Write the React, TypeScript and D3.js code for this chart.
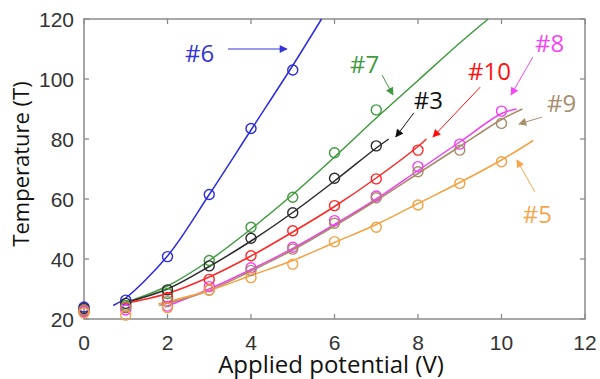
import React from "react";
import * as d3 from "d3";

const W = 600, H = 379;
const M = { left: 84, right: 15, top: 19, bottom: 60 };

const xTicks = [0, 2, 4, 6, 8, 10, 12];
const yTicks = [20, 40, 60, 80, 100, 120];

const seriesNames = ["#6", "#7", "#3", "#10", "#8", "#9", "#5"];
const seriesColors = ["#2b2be0", "#3f9a3f", "#2a2a2a", "#ff2626", "#f23ef2", "#a88b68", "#f5a141"];
const labelColors = ["#3434d8", "#3f9a3f", "#111111", "#ff1010", "#f545f5", "#a88d6d", "#f5a64c"];

// measured points (x = 0,1,2,...)
const pts6 = [24, 26.3, 40.8, 61.5, 83.5, 103];
const pts7 = [22.5, 24.5, 28.5, 39.5, 50.6, 60.6, 75.4, 89.7];
const pts3 = [23.5, 25.2, 29.7, 37.7, 46.9, 55.4, 66.9, 77.7];
const pts10 = [23, 23.8, 27.2, 33.2, 41.1, 49.4, 57.8, 66.7, 76.3];
const pts8 = [22.5, 23, 24.3, 30.8, 37.1, 43.9, 52.8, 61, 70.8, 78.3, 89.3];
const pts9 = [23, 24, 25.8, 29.6, 36.2, 43.3, 51.9, 60.4, 69.1, 76.3, 85.2];
const pts5 = [22, 21.3, 23.8, 29.7, 33.8, 38.3, 45.8, 50.6, 58, 65.2, 72.4];

// fitted curves [x, y]
const fit6: [number, number][] = [[0.7, 24.5], [1, 27], [2, 41], [3, 61.5], [4, 83], [5, 104.5], [5.69, 120]];
const fit7: [number, number][] = [[1, 25.5], [2, 31], [3, 39.5], [4, 50], [5, 61.5], [6, 74], [7, 87], [8, 99.5], [9, 112], [9.68, 120]];
const fit3: [number, number][] = [[1, 25.5], [2, 30], [3, 37.5], [4, 46], [5, 55.5], [6, 66], [7, 77], [7.3, 80]];
const fit10: [number, number][] = [[0.9, 25], [2, 28.5], [3, 34], [4, 41], [5, 49], [6, 57.5], [7, 67], [8, 77.5], [8.2, 80]];
const fit8: [number, number][] = [[1.94, 24], [3, 30], [4, 36.5], [5, 43.5], [6, 51.5], [7, 60], [8, 69.5], [9, 79], [10, 88.5], [10.36, 90]];
const fit9: [number, number][] = [[1.8, 24.5], [3, 29.5], [4, 36], [5, 43], [6, 51], [7, 59.5], [8, 68.5], [9, 77.5], [10, 86.5], [10.5, 90]];
const fit5: [number, number][] = [[1.78, 25], [3, 29.5], [4, 34.5], [5, 39.5], [6, 45.5], [7, 51.5], [8, 58.5], [9, 65.5], [10, 73], [10.76, 79.5]];

const allPts = [pts6, pts7, pts3, pts10, pts8, pts9, pts5];
const allFits = [fit6, fit7, fit3, fit10, fit8, fit9, fit5];

// annotation anchors in data units: text (x,y baseline), arrow from -> to
const labelPos: [number, number][] = [[2.42, 105.7], [6.37, 102], [7.9, 90], [9.2, 99.7], [10.8, 109], [11.09, 89], [10.51, 52]];
const arrowFrom: [number, number][] = [[3.45, 110], [7.14, 101.3], [7.9, 88.7], [9.49, 97.3], [10.75, 107.3], [10.97, 87.3], [10.8, 62.3]];
const arrowTo: [number, number][] = [[4.86, 110], [7.4, 94.7], [7.47, 80.7], [8.36, 80.7], [10.23, 94.7], [10.42, 85], [10.37, 73]];

export default function App() {
  const x = d3.scaleLinear().domain([0, 12]).range([M.left, W - M.right]);
  const y = d3.scaleLinear().domain([20, 120]).range([H - M.bottom, M.top]);
  const line = d3.line<[number, number]>().x(d => x(d[0])).y(d => y(d[1])).curve(d3.curveCatmullRom.alpha(0.5));
  const x0 = M.left, x1 = W - M.right, y0 = H - M.bottom, y1 = M.top;
  const axisColor = "#8a8a8a";
  const tickFont = "'Liberation Sans', Arial, sans-serif";
  const labFont = "'Open Sans', sans-serif";

  return (
    <svg width={W} height={H} style={{ position: "absolute", left: 0, top: 0, background: "#fff" }}>
      <defs>
        {seriesColors.map((c, i) => (
          <marker key={i} id={`ah${i}`} viewBox="0 0 10 10" refX="9" refY="5" markerWidth="10" markerHeight="8" markerUnits="userSpaceOnUse" orient="auto">
            <path d="M0,0 L10,5 L0,10 z" fill={labelColors[i]} />
          </marker>
        ))}
      </defs>
      <rect x={0} y={0} width={W} height={H} fill="#fff" />
      {/* frame */}
      <rect x={x0} y={y1} width={x1 - x0} height={y0 - y1} fill="none" stroke={axisColor} strokeWidth={1.5} />
      {xTicks.map(t => (
        <g key={"xt" + t}>
          <line x1={x(t)} x2={x(t)} y1={y0} y2={y0 - 5} stroke={axisColor} strokeWidth={1.3} />
          <line x1={x(t)} x2={x(t)} y1={y1} y2={y1 + 5} stroke={axisColor} strokeWidth={1.3} />
          <text x={x(t)} y={y0 + 31} textAnchor="middle" fontFamily={tickFont} fontSize={21} fill="#333">{t}</text>
        </g>
      ))}
      {yTicks.map(t => (
        <g key={"yt" + t}>
          <line x1={x0} x2={x0 + 5} y1={y(t)} y2={y(t)} stroke={axisColor} strokeWidth={1.3} />
          <line x1={x1} x2={x1 - 5} y1={y(t)} y2={y(t)} stroke={axisColor} strokeWidth={1.3} />
          <text x={x0 - 10} y={y(t) + 7.5} textAnchor="end" fontFamily={tickFont} fontSize={21} fill="#333">{t}</text>
        </g>
      ))}
      <text x={(210 + 452) / 2} y={373} textAnchor="middle" fontFamily={labFont} fontSize={24} fill="#111">Applied potential (V)</text>
      <text transform={`translate(29,${164}) rotate(-90)`} textAnchor="middle" fontFamily={labFont} fontSize={22} fill="#111">Temperature (T)</text>

      {/* fits */}
      {allFits.map((f, i) => (
        <path key={"f" + i} d={line(f) || ""} fill="none" stroke={seriesColors[i]} strokeWidth={1.5} />
      ))}
      {/* markers */}
      {allPts.map((p, i) => (
        <g key={"p" + i}>
          {p.map((v, j) => (
            <circle key={j} cx={x(j)} cy={y(v)} r={5} fill="none" stroke={seriesColors[i]} strokeWidth={1.4} />
          ))}
        </g>
      ))}
      {/* annotations */}
      {seriesNames.map((n, i) => (
        <g key={"a" + i}>
          <text x={x(labelPos[i][0])} y={y(labelPos[i][1])} fontFamily={labFont} fontSize={24} fill={labelColors[i]}>{n}</text>
          <line x1={x(arrowFrom[i][0])} y1={y(arrowFrom[i][1])} x2={x(arrowTo[i][0])} y2={y(arrowTo[i][1])} stroke={labelColors[i]} strokeWidth={1} markerEnd={`url(#ah${i})`} />
        </g>
      ))}
    </svg>
  );
}
